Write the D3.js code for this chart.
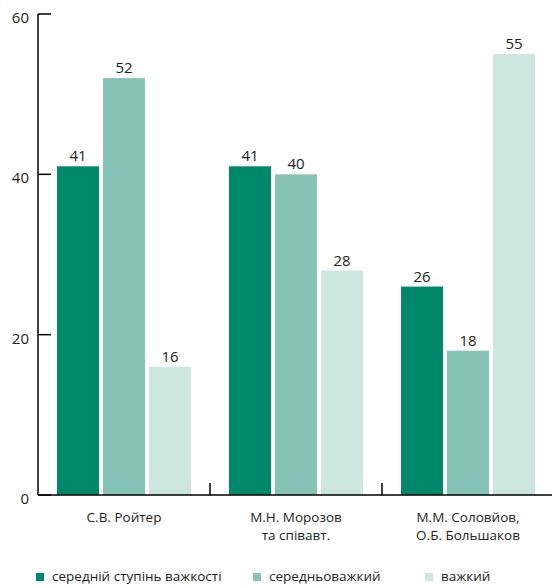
<!DOCTYPE html>
<html><head><meta charset="utf-8">
<script src="https://cdn.jsdelivr.net/npm/d3@7"></script>
<style>body{margin:0;background:#fff}svg{display:block}text{font-family:"Open Sans","Noto Sans",sans-serif;fill:#231f20}</style>
</head><body>
<script>
const categories = [["С.В. Ройтер"], ["М.Н. Морозов", "та співавт."], ["М.М. Соловйов,", "О.Б. Большаков"]];
const seriesNames = ["середній ступінь важкості", "середньоважкий", "важкий"];
const seriesColors = ["#00886a", "#84c3b5", "#cde6e1"];
const values = [[41, 52, 16], [41, 40, 28], [26, 18, 55]];
const yTicks = [0, 20, 40, 60];

const W = 552, H = 586;
const svg = d3.select("body").append("svg").attr("width", W).attr("height", H);
const y = d3.scaleLinear().domain([0, 60]).range([495, 14]);
const x0 = d3.scaleBand().domain(d3.range(categories.length)).range([38, 554]).paddingInner(0).paddingOuter(0);
const x1 = d3.scaleBand().domain(d3.range(seriesNames.length)).range([19, 153]).paddingInner(4 / 46).paddingOuter(0);

// bars
const g = svg.append("g");
values.forEach((row, i) => {
  row.forEach((v, j) => {
    g.append("rect")
      .attr("x", x0(i) + x1(j)).attr("y", y(v))
      .attr("width", x1.bandwidth()).attr("height", y(0) - y(v))
      .attr("fill", seriesColors[j]);
    g.append("text")
      .attr("x", x0(i) + x1(j) + x1.bandwidth() / 2).attr("y", y(v) - 5)
      .attr("text-anchor", "middle").attr("font-size", 15).text(v);
  });
});

// y axis
const ya = svg.append("g");
ya.append("line").attr("x1", 38).attr("x2", 38).attr("y1", y(60)).attr("y2", y(0)).attr("stroke", "#000").attr("stroke-width", 1.5);
yTicks.forEach(t => {
  ya.append("line").attr("x1", 38).attr("x2", 51).attr("y1", y(t)).attr("y2", y(t)).attr("stroke", "#000").attr("stroke-width", 1.5);
  ya.append("text").attr("x", 29).attr("y", y(t) + 9).attr("text-anchor", "end").attr("font-size", 15).text(t);
});

// x axis
svg.append("line").attr("x1", 38).attr("x2", 552).attr("y1", y(0)).attr("y2", y(0)).attr("stroke", "#000").attr("stroke-width", 1.5);
d3.range(1, categories.length).forEach(i => {
  svg.append("line").attr("x1", x0(i)).attr("x2", x0(i)).attr("y1", y(0) - 12).attr("y2", y(0)).attr("stroke", "#000").attr("stroke-width", 1.5);
});
categories.forEach((lines, i) => {
  const t = svg.append("text").attr("text-anchor", "middle").attr("font-size", 13.5);
  lines.forEach((l, k) => {
    t.append("tspan").attr("x", x0(i) + x0.bandwidth() / 2).attr("y", 522 + k * 18).text(l);
  });
});

// legend
const legX = [36, 253, 425];
seriesNames.forEach((n, j) => {
  svg.append("rect").attr("x", legX[j]).attr("y", 573).attr("width", 8).attr("height", 8).attr("fill", seriesColors[j]);
  svg.append("text").attr("x", legX[j] + 16).attr("y", 581).attr("font-size", 13.5).text(n);
});
</script>
</body></html>
